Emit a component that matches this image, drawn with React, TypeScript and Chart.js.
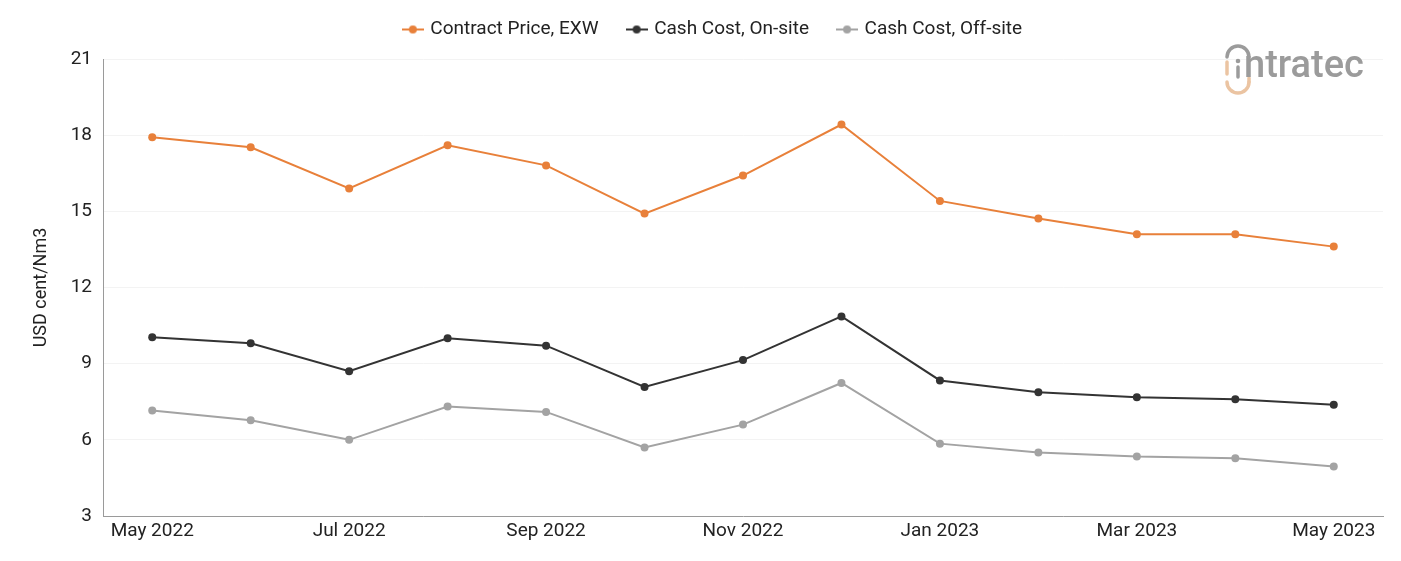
import React, { useEffect, useRef } from "react";
import { Chart, registerables } from "chart.js";

Chart.register(...registerables);

// Monthly categories, May 2022 – May 2023
const months = [
  "May 2022", "Jun 2022", "Jul 2022", "Aug 2022", "Sep 2022", "Oct 2022", "Nov 2022",
  "Dec 2022", "Jan 2023", "Feb 2023", "Mar 2023", "Apr 2023", "May 2023",
];

// USD cent/Nm3
const contractPrice = [17.92, 17.52, 15.9, 17.6, 16.81, 14.91, 16.41, 18.42, 15.41, 14.72, 14.1, 14.1, 13.61];
const cashCostOnSite = [10.04, 9.8, 8.7, 10.0, 9.71, 8.08, 9.14, 10.86, 8.34, 7.87, 7.68, 7.6, 7.38];
const cashCostOffSite = [7.16, 6.77, 6.0, 7.31, 7.1, 5.7, 6.6, 8.24, 5.85, 5.5, 5.34, 5.27, 4.95];

const yTicks = [3, 6, 9, 12, 15, 18, 21];

const ORANGE = "#E8803A";
const DARK = "#333333";
const GREY = "#A3A3A3";
const FONT = "Roboto, 'Noto Sans', sans-serif";

// Legend marker: a short line with a dot in the middle
function legendMarker(color: string): HTMLCanvasElement {
  const c = document.createElement("canvas");
  c.width = 22;
  c.height = 10;
  const g = c.getContext("2d")!;
  g.strokeStyle = color;
  g.lineWidth = 2;
  g.beginPath();
  g.moveTo(0, 5);
  g.lineTo(22, 5);
  g.stroke();
  g.fillStyle = color;
  g.beginPath();
  g.arc(11, 5, 4, 0, Math.PI * 2);
  g.fill();
  return c;
}

// Extra room beneath the legend, and a small rightward nudge of the legend row
const legendTweak = {
  id: "legendTweak",
  beforeInit(chart: any) {
    const legend = chart.legend;
    if (!legend) return;
    const fit = legend.fit;
    legend.fit = function () {
      fit.call(this);
      this.height += 10;
    };
  },
  beforeDraw(chart: any) {
    const legend = chart.legend;
    if (!legend || legend._nudged) return;
    legend.left += 22;
    legend.right += 22;
    legend._nudged = true;
  },
};

// Brand mark in the upper-right corner
const logoPlugin = {
  id: "logo",
  afterDraw(chart: Chart) {
    const ctx = chart.ctx;
    const x0 = 1238;
    ctx.save();
    ctx.lineCap = "round";
    ctx.strokeStyle = "#9B9B9B";
    ctx.lineWidth = 3.5;
    ctx.beginPath();
    ctx.arc(x0, 57, 11, Math.PI, Math.PI * 2);
    ctx.stroke();
    ctx.strokeStyle = "#EBC4A2";
    ctx.beginPath();
    ctx.moveTo(x0 - 11, 62);
    ctx.lineTo(x0 - 11, 74);
    ctx.stroke();
    ctx.beginPath();
    ctx.arc(x0, 82, 11, 0, Math.PI);
    ctx.stroke();
    ctx.beginPath();
    ctx.moveTo(x0 + 11, 82);
    ctx.lineTo(x0 + 11, 78);
    ctx.stroke();
    ctx.fillStyle = "#9B9B9B";
    ctx.beginPath();
    ctx.arc(x0, 61, 2.3, 0, Math.PI * 2);
    ctx.fill();
    ctx.strokeStyle = "#9B9B9B";
    ctx.lineWidth = 3.5;
    ctx.beginPath();
    ctx.moveTo(x0, 67);
    ctx.lineTo(x0, 77);
    ctx.stroke();
    let size = 28;
    ctx.font = `500 ${size}px ${FONT}`;
    const w = ctx.measureText("ntratec").width;
    size = size * (120 / w);
    ctx.font = `500 ${size}px ${FONT}`;
    ctx.textBaseline = "alphabetic";
    ctx.fillText("ntratec", 1244, 77);
    ctx.restore();
  },
};

export default function App() {
  const ref = useRef<HTMLCanvasElement>(null);

  useEffect(() => {
    if (!ref.current) return;
    const markers = [legendMarker(ORANGE), legendMarker(DARK), legendMarker(GREY)];
    const chart = new Chart(ref.current, {
      type: "line",
      data: {
        labels: months,
        datasets: [
          { label: "Contract Price, EXW", data: contractPrice, borderColor: ORANGE, backgroundColor: ORANGE },
          { label: "Cash Cost, On-site", data: cashCostOnSite, borderColor: DARK, backgroundColor: DARK },
          { label: "Cash Cost, Off-site", data: cashCostOffSite, borderColor: GREY, backgroundColor: GREY },
        ].map((d) => ({
          ...d,
          borderWidth: 2,
          pointRadius: 4,
          pointHoverRadius: 4,
          pointBorderWidth: 0,
          tension: 0,
          fill: false,
        })),
      },
      options: {
        responsive: false,
        animation: false,
        layout: { padding: { left: 0, right: 18, top: -10, bottom: 0 } },
        plugins: {
          tooltip: { enabled: false },
          legend: {
            position: "top",
            align: "center",
            labels: {
              usePointStyle: true,
              pointStyleWidth: 16,
              padding: 30,
              color: "#222",
              font: { family: FONT, size: 19 },
              generateLabels: (ch: Chart) =>
                ch.data.datasets.map((ds, i) => ({
                  text: ds.label as string,
                  pointStyle: markers[i],
                  fillStyle: ds.borderColor as string,
                  strokeStyle: ds.borderColor as string,
                  lineWidth: 0,
                  hidden: false,
                  datasetIndex: i,
                  fontColor: "#222",
                })),
            },
          },
        },
        scales: {
          x: {
            offset: true,
            grid: { display: false, drawTicks: false },
            border: { display: true, color: "#9A9A9A", width: 1 },
            ticks: {
              autoSkip: false,
              maxRotation: 0,
              minRotation: 0,
              padding: 4,
              color: "#222",
              font: { family: FONT, size: 19 },
              callback: (_v: any, i: number) => (i % 2 === 0 ? months[i] : ""),
            },
            afterFit: (s: any) => {
              s.height = 45;
            },
          },
          y: {
            min: 3,
            max: 21,
            afterBuildTicks: (s: any) => {
              s.ticks = yTicks.map((v) => ({ value: v }));
            },
            grid: { color: "#F3F3F3", drawTicks: false, lineWidth: 1 },
            border: { display: true, color: "#9A9A9A", width: 1 },
            ticks: {
              padding: 11,
              color: "#222",
              font: { family: FONT, size: 19 },
            },
            title: {
              display: true,
              text: "USD cent/Nm3",
              color: "#222",
              font: { family: FONT, size: 18 },
              padding: { top: 31, bottom: 0 },
            },
            afterFit: (s: any) => {
              s.width = 103;
            },
          },
        },
      },
      plugins: [legendTweak, logoPlugin],
    });
    return () => chart.destroy();
  }, []);

  return (
    <div style={{ position: "fixed", left: 0, top: 0, width: 1401, height: 561, background: "#fff" }}>
      <canvas ref={ref} width={1401} height={561} />
    </div>
  );
}
